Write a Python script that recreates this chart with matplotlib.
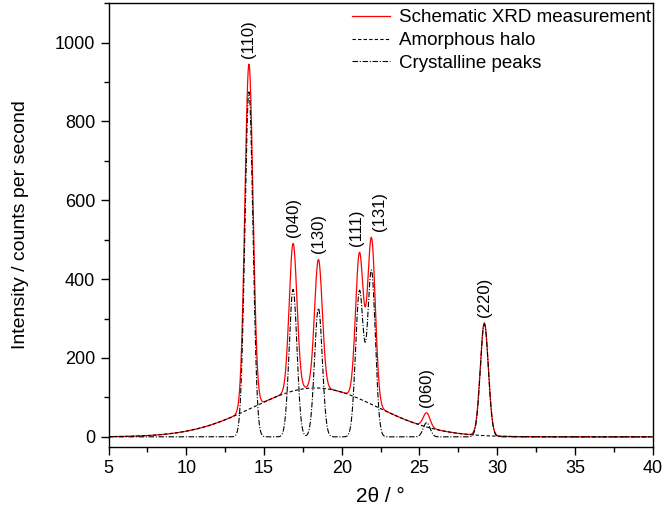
import numpy as np
import matplotlib
matplotlib.use('Agg')
import matplotlib.pyplot as plt
from matplotlib.ticker import MultipleLocator

# Peak parameters (2theta in degrees, intensity in cps)
peak_labels = ['(110)', '(040)', '(130)', '(111)', '(131)', '(060)', '(220)']
peak_pos = [14.03, 16.87, 18.50, 21.14, 21.91, 25.46, 29.17]
peak_height = [875, 374, 326, 368, 420, 36, 286]
peak_sigma = [0.26, 0.25, 0.25, 0.25, 0.25, 0.22, 0.26]

# Broad amorphous halo
halo_pos = 18.3
halo_height = 124
halo_sigma = 4.0

legend_labels = ['Schematic XRD measurement', 'Amorphous halo', 'Crystalline peaks']


def gauss(x, mu, h, s):
    return h * np.exp(-(x - mu) ** 2 / (2 * s ** 2))


def main():
    plt.rcParams['font.family'] = ['Liberation Sans', 'DejaVu Sans']

    two_theta = np.linspace(5, 40, 3501)
    halo = gauss(two_theta, halo_pos, halo_height, halo_sigma)
    crystalline = np.zeros_like(two_theta)
    for mu, h, s in zip(peak_pos, peak_height, peak_sigma):
        crystalline += gauss(two_theta, mu, h, s)
    total = halo + crystalline

    fig = plt.figure(figsize=(6.63, 5.15), dpi=100)
    ax = fig.add_axes([0.1637, 0.1326, 0.8208, 0.8614])

    ax.plot(two_theta, total, color='red', lw=0.9, label=legend_labels[0])
    ax.plot(two_theta, halo, color='black', lw=0.8, ls=(0, (3, 2)), label=legend_labels[1])
    ax.plot(two_theta, crystalline, color='black', lw=0.8, ls=(0, (5, 1.5, 1, 1.5)),
            label=legend_labels[2])

    # Reflection labels just above each peak; the close pair gets pushed apart
    nudge = {'(111)': -2.0, '(131)': 5.5}
    for lab, mu in zip(peak_labels, peak_pos):
        idx = np.argmin(np.abs(two_theta - mu))
        top = total[max(idx - 20, 0):idx + 20].max()
        ax.annotate(lab, xy=(mu, top), xytext=(nudge.get(lab, 0), 4.5),
                    textcoords='offset points',
                    rotation=90, ha='center', va='bottom', fontsize=12)

    ax.set_xlim(5, 40)
    ax.set_ylim(-25, 1100)
    ax.xaxis.set_major_locator(MultipleLocator(5))
    ax.xaxis.set_minor_locator(MultipleLocator(2.5))
    ax.yaxis.set_major_locator(MultipleLocator(200))
    ax.yaxis.set_minor_locator(MultipleLocator(100))
    ax.tick_params(which='major', direction='out', length=6, width=1, labelsize=13)
    ax.tick_params(which='minor', direction='out', length=3.5, width=1)
    for sp in ax.spines.values():
        sp.set_linewidth(1)

    ax.set_xlabel('2θ / °', fontsize=15, labelpad=7)
    ax.set_ylabel('Intensity / counts per second', fontsize=14, labelpad=19)

    ax.legend(loc='upper right', frameon=False, fontsize=13.5, handlelength=2.0,
              handletextpad=0.48, labelspacing=0.3, borderaxespad=0.05,
              bbox_to_anchor=(1.012, 1.005))

    fig.savefig('out.png', dpi=100)


if __name__ == '__main__':
    main()
